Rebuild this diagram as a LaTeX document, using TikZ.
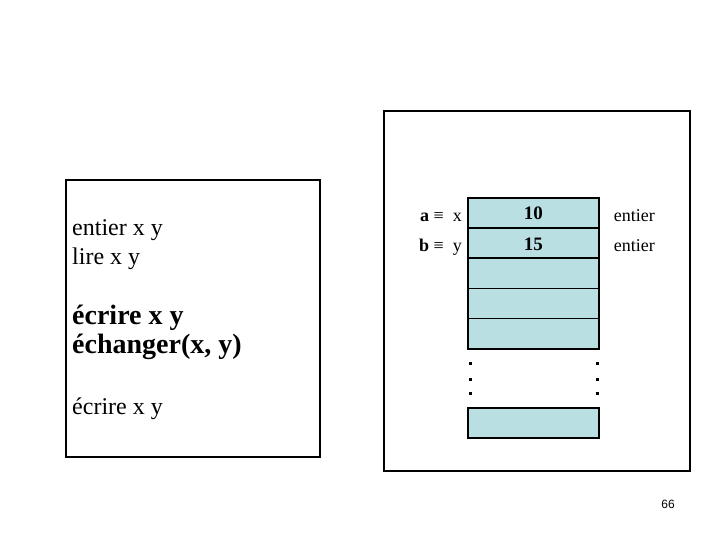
\documentclass[tikz,border=0pt]{standalone}
\usepackage{fontspec}
\setmainfont{Liberation Serif}
\newfontfamily\pagefont{Liberation Sans}
\usetikzlibrary{positioning}
\definecolor{cellblue}{RGB}{186, 223, 226}

\begin{document}
\begin{tikzpicture}[x=1pt, y=-1pt,
    frame/.style={draw, line width=1.7pt, anchor=north west, inner sep=0pt},
    cell/.style={draw, line width=1.6pt, fill=cellblue, minimum width=131pt, minimum height=30.2pt, inner sep=0pt},
    prog/.style={anchor=base west, inner sep=0pt, font=\fontsize{24}{27}\selectfont},
    progb/.style={anchor=base west, inner sep=0pt, font=\fontsize{28}{30}\selectfont\bfseries},
    small/.style={font=\fontsize{18}{20}\selectfont, inner sep=0pt}]
    \useasboundingbox (0,0) rectangle (720,540);

    % Program - left
    \node[frame, minimum width=254pt, minimum height=277pt] (progbox) at (65,179) {};
    \node[prog] (decl) at (72,236) {entier x y};
    \node[prog] (read) at (72,264) {lire x y};
    \node[progb] (write1) at (72,324) {écrire x y};
    \node[progb] (swap) at (72,353) {échanger(x, y)};
    \node[prog] (write2) at (72,414) {écrire x y};

    % Memory - right
    \node[frame, minimum width=306pt, minimum height=360pt] (membox) at (383,110) {};
    \node[cell, anchor=north west] (cell1) at (467,197) {};
    \foreach \i [count=\j from 2] in {1,...,4}
        \node[cell, below=-1.6pt of cell\i] (cell\j) {};
    \node[cell, anchor=north west] (celln) at (467,407) {};

    % Contents and names
    \node[small, font=\fontsize{19}{20}\selectfont\bfseries, anchor=base] (val1) at ([yshift=-7pt]cell1.center) {10};
    \node[small, font=\fontsize{19}{20}\selectfont\bfseries, anchor=base] (val2) at ([yshift=-7pt]cell2.center) {15};
    \node[small, anchor=base east] (name1) at ([xshift=-5pt, yshift=-9pt]cell1.center -| cell1.west) {\textbf{a} ≡\ \ x};
    \node[small, anchor=base east] (name2) at ([xshift=-5pt, yshift=-8pt]cell2.center -| cell2.west) {\textbf{b} ≡\ \ y};
    \node[small, anchor=base west] (type1) at ([xshift=14pt, yshift=-9pt]cell1.center -| cell1.east) {entier};
    \node[small, anchor=base west] (type2) at ([xshift=14pt, yshift=-8pt]cell2.center -| cell2.east) {entier};

    % Dots between cells
    \foreach \y in {363,379,393} {
        \fill (468.5,\y-1.5) rectangle ++(3,3);
        \fill (595.5,\y-1.5) rectangle ++(3,3);
    }

    \node[font=\pagefont\fontsize{12}{14}\selectfont] (page) at (668,504) {66};
\end{tikzpicture}
\end{document}
